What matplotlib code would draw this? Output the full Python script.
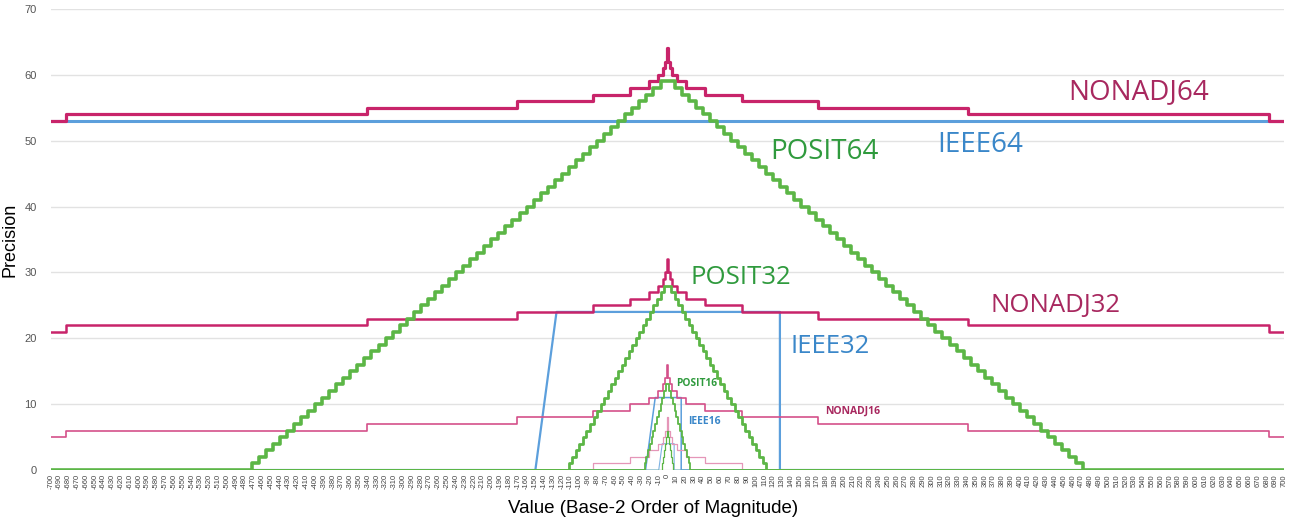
import matplotlib
matplotlib.use('Agg')
import matplotlib.pyplot as plt

# x positions are step edges (base-2 exponent), y is the precision from that edge on
nonadj_x = [-700, -683, -341, -171, -85, -43, -21, -11, -5, -3, -1, -0.5,
            0.5, 1, 3, 5, 11, 21, 43, 85, 171, 341, 683, 700]
nonadj64 = [53, 54, 55, 56, 57, 58, 59, 60, 61, 62, 63, 64,
            63, 62, 61, 60, 59, 58, 57, 56, 55, 54, 53, 53]
nonadj32 = [21, 22, 23, 24, 25, 26, 27, 28, 29, 30, 31, 32,
            31, 30, 29, 28, 27, 26, 25, 24, 23, 22, 21, 21]
nonadj16 = [5, 6, 7, 8, 9, 10, 11, 12, 13, 14, 15, 16,
            15, 14, 13, 12, 11, 10, 9, 8, 7, 6, 5, 5]
nonadj8 = [0, 0, 0, 0, 1, 2, 3, 4, 5, 6, 7, 8,
           7, 6, 5, 4, 3, 2, 1, 0, 0, 0, 0, 0]

posit64_x = [-700, -472, -464, -456, -448, -440, -432, -424, -416, -408, -400, -392,
             -384, -376, -368, -360, -352, -344, -336, -328, -320, -312, -304, -296,
             -288, -280, -272, -264, -256, -248, -240, -232, -224, -216, -208, -200,
             -192, -184, -176, -168, -160, -152, -144, -136, -128, -120, -112, -104,
             -96, -88, -80, -72, -64, -56, -48, -40, -32, -24, -16, -8,
             8, 16, 24, 32, 40, 48, 56, 64, 72, 80, 88, 96, 104, 112, 120, 128,
             136, 144, 152, 160, 168, 176, 184, 192, 200, 208, 216, 224, 232, 240,
             248, 256, 264, 272, 280, 288, 296, 304, 312, 320, 328, 336, 344, 352,
             360, 368, 376, 384, 392, 400, 408, 416, 424, 432, 440, 448, 456, 464,
             472, 700]
posit64 = [0, 1, 2, 3, 4, 5, 6, 7, 8, 9, 10, 11, 12, 13, 14, 15, 16, 17, 18, 19, 20,
           21, 22, 23, 24, 25, 26, 27, 28, 29, 30, 31, 32, 33, 34, 35, 36, 37, 38, 39,
           40, 41, 42, 43, 44, 45, 46, 47, 48, 49, 50, 51, 52, 53, 54, 55, 56, 57, 58, 59,
           58, 57, 56, 55, 54, 53, 52, 51, 50, 49, 48, 47, 46, 45, 44, 43, 42, 41, 40,
           39, 38, 37, 36, 35, 34, 33, 32, 31, 30, 29, 28, 27, 26, 25, 24, 23, 22, 21,
           20, 19, 18, 17, 16, 15, 14, 13, 12, 11, 10, 9, 8, 7, 6, 5, 4, 3, 2, 1, 0, 0]

posit32_x = [-700, -112, -108, -104, -100, -96, -92, -88, -84, -80, -76, -72, -68, -64,
             -60, -56, -52, -48, -44, -40, -36, -32, -28, -24, -20, -16, -12, -8, -4,
             4, 8, 12, 16, 20, 24, 28, 32, 36, 40, 44, 48, 52, 56, 60, 64, 68, 72, 76,
             80, 84, 88, 92, 96, 100, 104, 108, 112, 700]
posit32 = [0, 1, 2, 3, 4, 5, 6, 7, 8, 9, 10, 11, 12, 13, 14, 15, 16, 17, 18, 19, 20,
           21, 22, 23, 24, 25, 26, 27, 28,
           27, 26, 25, 24, 23, 22, 21, 20, 19, 18, 17, 16, 15, 14, 13, 12, 11, 10, 9,
           8, 7, 6, 5, 4, 3, 2, 1, 0, 0]

posit16_x = [-700, -26, -24, -22, -20, -18, -16, -14, -12, -10, -8, -6, -4, -2,
             2, 4, 6, 8, 10, 12, 14, 16, 18, 20, 22, 24, 26, 700]
posit16 = [0, 1, 2, 3, 4, 5, 6, 7, 8, 9, 10, 11, 12, 13,
           12, 11, 10, 9, 8, 7, 6, 5, 4, 3, 2, 1, 0, 0]

posit8_x = [-700, -6, -5, -4, -3, -2, -1, 1, 2, 3, 4, 5, 6, 700]
posit8 = [0, 1, 2, 3, 4, 5, 6, 5, 4, 3, 2, 1, 0, 0]

# IEEE: flat normal range, subnormal ramp, overflow drop
ieee64_x = [-700, 700]
ieee64 = [53, 53]
ieee32_x = [-700, -150, -126, 127.5, 127.5, 700]
ieee32 = [0, 0, 24, 24, 0, 0]
ieee16_x = [-700, -25, -14, 15.5, 15.5, 700]
ieee16 = [0, 0, 11, 11, 0, 0]
ieee8_x = [-700, -10, -6, 7.5, 7.5, 700]
ieee8 = [0, 0, 4, 4, 0, 0]

tick_vals = list(range(-700, 701, 10))

# label text, x, y, colour, size, weight
labels = [
    ('NONADJ64', 455, 57.4, '#a8285f', 20, 'normal'),
    ('POSIT64', 116, 48.3, '#2f9a3d', 20, 'normal'),
    ('IEEE64', 306, 49.3, '#3a87c9', 20, 'normal'),
    ('POSIT32', 26, 29.3, '#2f9a3d', 18.5, 'normal'),
    ('NONADJ32', 366, 25.0, '#a8285f', 18.5, 'normal'),
    ('IEEE32', 139, 18.7, '#3a87c9', 18.5, 'normal'),
    ('POSIT16', 10, 13.2, '#2f9a3d', 7.3, 'bold'),
    ('NONADJ16', 179, 9.0, '#a8285f', 7.5, 'bold'),
    ('IEEE16', 23, 7.4, '#3a87c9', 7.5, 'bold'),
]

MAGENTA = '#c8246a'
GREEN = '#5cb646'
BLUE = '#5c9fdc'

fig = plt.figure(figsize=(13, 5.24), dpi=100)
ax = fig.add_axes([0.039, 0.103, 0.949, 0.880])

ax.plot(ieee64_x, ieee64, color=BLUE, lw=2.2, zorder=2)
ax.plot(ieee32_x, ieee32, color=BLUE, lw=1.6, zorder=2)
ax.plot(ieee16_x, ieee16, color=BLUE, lw=1.1, zorder=2)
ax.plot(ieee8_x, ieee8, color=BLUE, lw=0.8, alpha=0.8, zorder=2)

ax.step(nonadj_x, nonadj64, where='post', color=MAGENTA, lw=2.3, zorder=3)
ax.step(nonadj_x, nonadj32, where='post', color=MAGENTA, lw=1.8, zorder=3)
ax.step(nonadj_x, nonadj16, where='post', color='#d4508a', lw=1.2, zorder=3)
ax.step(nonadj_x, nonadj8, where='post', color='#e596b8', lw=0.9, zorder=3)

ax.step(posit64_x, posit64, where='post', color=GREEN, lw=2.6, zorder=4)
ax.step(posit32_x, posit32, where='post', color=GREEN, lw=2.0, zorder=4)
ax.step(posit16_x, posit16, where='post', color=GREEN, lw=1.3, zorder=4)
ax.step(posit8_x, posit8, where='post', color=GREEN, lw=0.9, zorder=4)

for txt, x, y, col, fs, wt in labels:
    ax.text(x, y, txt, color=col, fontsize=fs, fontweight=wt, va='center', ha='left',
            family='Open Sans', zorder=5)

ax.set_xlim(-700, 700)
ax.set_ylim(0, 70)
ax.set_yticks(range(0, 71, 10))
ax.set_xticks(tick_vals)
ax.set_xticklabels([str(v) for v in tick_vals], rotation=90, fontsize=5.5, color='#444444',
                   family='Liberation Sans')
ax.tick_params(axis='y', labelsize=8, labelcolor='#555555', length=0, pad=10)
ax.tick_params(axis='x', length=0, pad=3)
for lbl in ax.get_yticklabels():
    lbl.set_family('Liberation Sans')
ax.grid(axis='y', color='#e2e2e2', lw=1)
ax.set_axisbelow(True)
for s in ax.spines.values():
    s.set_visible(False)

ax.set_ylabel('Precision', fontsize=13, family='Liberation Sans')
ax.yaxis.set_label_coords(-0.026, 0.5)
ax.set_xlabel('Value (Base-2 Order of Magnitude)', fontsize=13.5, family='Liberation Sans')
ax.xaxis.set_label_coords(0.488, -0.066)

fig.savefig('out.png', dpi=100)
